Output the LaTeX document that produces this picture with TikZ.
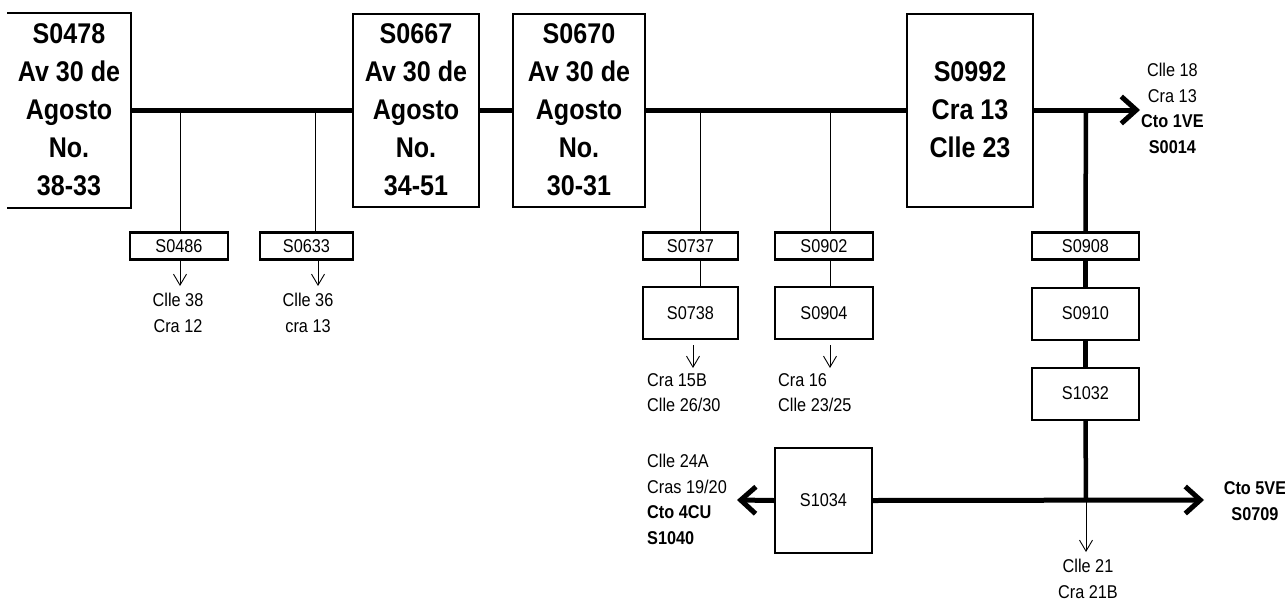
\documentclass[tikz,border=0pt]{standalone}
\usepackage{fontspec}
\setmainfont{Liberation Sans}[FakeStretch=0.88]
\usepackage{tikz}
\usetikzlibrary{positioning}
\usetikzlibrary{arrows.meta}

\begin{document}
\begin{tikzpicture}[x=1pt,y=-1pt,
    bigbox/.style={draw,line width=2pt,inner sep=0pt,align=center,minimum width=126pt,minimum height=193pt,font={\fontsize{28.5}{38}\selectfont\bfseries}},
    smallbox/.style={draw,line width=2.5pt,inner sep=0pt,minimum width=96pt,minimum height=27pt,font={\fontsize{18.5}{24}\selectfont}},
    midbox/.style={draw,line width=2pt,inner sep=0pt,minimum width=96pt,minimum height=52pt,font={\fontsize{18.5}{24}\selectfont}},
    lbl/.style={inner sep=0pt,font={\fontsize{18.5}{25.5}\selectfont}},
    bus/.style={line width=5pt},
    tap/.style={line width=0.9pt},
    tapend/.style={line width=0.9pt,-{Straight Barb[length=11pt,width=13pt]}},
    busend/.style={line width=5pt,-{Straight Barb[length=15pt,width=27pt]}}]
\useasboundingbox (0,0) rectangle (1285,600);

% feeders on Av 30 de Agosto
\node[bigbox,draw=none,minimum width=122pt] (s0478) at (69,110) {S0478\\Av 30 de\\Agosto\\No.\\38-33};
\draw[line width=2pt] (s0478.north west) -- (s0478.north east) -- (s0478.south east) -- (s0478.south west);
\node[bigbox] (s0667) at (416,110) {S0667\\Av 30 de\\Agosto\\No.\\34-51};
\node[bigbox,minimum width=132pt] (s0670) at (579,110) {S0670\\Av 30 de\\Agosto\\No.\\30-31};
\node[bigbox] (s0992) at (970,110) {S0992\\Cra 13\\Clle 23};

\draw[bus] (s0478.east) -- (s0667.west);
\draw[bus] (s0667.east) -- (s0670.west);
\draw[bus] (s0670.east) -- (s0992.west);
\coordinate (e1ve) at (1140,110);
\draw[busend] (s0992.east) -- (e1ve);
\node[lbl,align=center,anchor=west] (lab1ve) at (1141,108.5) {Clle 18\\Cra 13\\\textbf{Cto 1VE}\\\textbf{S0014}};

% small sections
\node[smallbox,minimum width=98pt] (s0486) at (179,246) {S0486};
\node[smallbox,minimum width=93pt] (s0633) at (306.5,246) {S0633};
\node[smallbox,minimum width=95pt] (s0737) at (690.5,246) {S0737};
\node[midbox,minimum width=95pt] (s0738) at (690.5,313) {S0738};
\node[smallbox,minimum width=98pt] (s0902) at (824,246) {S0902};
\node[midbox,minimum width=98pt] (s0904) at (824,313) {S0904};
\node[smallbox,minimum width=107pt] (s0908) at (1085.5,246) {S0908};
\node[midbox,minimum width=107pt] (s0910) at (1085.5,313.5) {S0910};
\node[midbox,minimum width=107pt] (s1032) at (1085.5,393.5) {S1032};
\node[midbox,minimum width=97pt,minimum height=105pt] (s1034) at (823.5,500.5) {S1034};

\coordinate (t486) at (180,110);
\coordinate (t633) at (315,110);
\coordinate (t737) at (700,110);
\coordinate (t902) at (830,110);
\coordinate (j1) at (1086,110);
\draw[tap] (t486) -- (t486 |- s0486.north);
\draw[tap] (t633) -- (t633 |- s0633.north);
\draw[tap] (t737) -- (t737 |- s0737.north);
\draw[tap] (t737 |- s0737.south) -- (t737 |- s0738.north);
\draw[tap] (t902) -- (t902 |- s0902.north);
\draw[tap] (t902 |- s0902.south) -- (t902 |- s0904.north);
\draw[line width=4.5pt] (j1) -- (s0908.north);
\draw[line width=4.5pt] (s0908.south) -- (s0910.north);
\draw[line width=4.5pt] (s0910.south) -- (s1032.north);

% end labels
\node[lbl,align=center] (lab486) at (178,313) {Clle 38\\Cra 12};
\node[lbl,align=center] (lab633) at (308,313) {Clle 36\\cra 13};
\node[lbl,align=left,anchor=west] (lab738) at (647,392.5) {Cra 15B\\Clle 26/30};
\node[lbl,align=left,anchor=west] (lab904) at (778,392.5) {Cra 16\\Clle 23/25};
\coordinate (a486) at (180,286);
\coordinate (a633) at (318,286);
\coordinate (a738) at (693,368);
\coordinate (a904) at (830,368);
\draw[tapend] (a486 |- s0486.south) -- (a486);
\draw[tapend] (a633 |- s0633.south) -- (a633);
\draw[tapend] (693,345) -- (a738);
\draw[tapend] (830,345) -- (a904);

% lower bus
\coordinate (j2) at (1086,500);
\coordinate (e5ve) at (1204,500);
\coordinate (e4cu) at (737,500);
\coordinate (a21) at (1086,552);
\draw[line width=4.5pt] (s1032.south) -- (j2);
\draw[busend] (s1034.east) -- (e5ve);
\draw[busend] (s1034.west) -- (e4cu);
\node[lbl,align=left,anchor=west] (lab4cu) at (647,499.5) {Clle 24A\\Cras 19/20\\\textbf{Cto 4CU}\\\textbf{S1040}};
\node[lbl,align=center,font={\fontsize{18.5}{26}\selectfont\bfseries}] (lab5ve) at (1255,501) {Cto 5VE\\S0709};
\node[lbl,align=center] (lab21) at (1088,579) {Clle 21\\Cra 21B};
\draw[tapend] (j2) -- (a21);
\end{tikzpicture}
\end{document}
